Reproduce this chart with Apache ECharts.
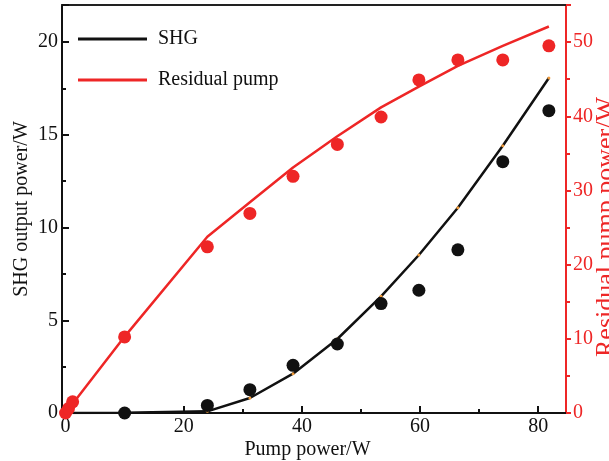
<!DOCTYPE html>
<html>
<head>
<meta charset="utf-8">
<script src="https://cdn.jsdelivr.net/npm/echarts@6/dist/echarts.min.js"></script>
<style>
html,body{margin:0;padding:0;background:#fff;}
#chart{width:609px;height:461px;}
</style>
</head>
<body>
<div id="chart"></div>
<script>
// ---- data ----
var pumpPower = [0, 10, 24, 31.2, 38.5, 46, 53.4, 59.8, 66.4, 74, 81.8];
var shgMeasured = [0, 0, 0.41, 1.26, 2.57, 3.72, 5.9, 6.62, 8.8, 13.55, 16.3];
var shgFit = [0, 0.02, 0.09, 0.81, 2.12, 3.99, 6.29, 8.52, 11.07, 14.41, 18.06];
var residualPower = [0, 0.5, 1.2, 10, 24, 31.2, 38.5, 46, 53.4, 59.8, 66.4, 74, 81.8];
var residualMeasured = [0, 0.6, 1.5, 10.25, 22.4, 26.9, 31.9, 36.2, 39.9, 44.9, 47.6, 47.6, 49.5];
var residualFit = [0, 10.3, 23.75, 28.4, 33.1, 37.3, 41.2, 44.0, 46.8, 49.5, 52.1];
var xMajorTicks = [0, 20, 40, 60, 80];
var xMinorTicks = [10, 30, 50, 70];

function pairs(xs, ys) { return xs.map(function (x, i) { return [x, ys[i]]; }); }

var RED = '#ee2626';
var BLACK = '#111111';
var FONT = "'Liberation Serif', 'Times New Roman', serif";

var chart = echarts.init(document.getElementById('chart'));
chart.setOption({
  animation: false,
  backgroundColor: '#fff',
  textStyle: { fontFamily: FONT },
  grid: { left: 62, right: 43, top: 5, bottom: 48, containLabel: false, outerBoundsMode: 'none' },
  legend: {
    orient: 'vertical', left: 73, top: 24,
    itemWidth: 69, itemHeight: 3, itemGap: 21,
    icon: 'rect',
    data: ['SHG', 'Residual pump'],
    textStyle: { fontSize: 20, color: BLACK, fontFamily: FONT, padding: [0, 0, 0, 6] }
  },
  xAxis: [
    {
      type: 'value', position: 'bottom', min: -0.6, max: 84.7,
      name: 'Pump power/W', nameLocation: 'middle', nameGap: 27, nameMoveOverlap: false,
      nameTextStyle: { fontSize: 20, color: BLACK, fontFamily: FONT, padding: [0, 13, 0, 0] },
      axisLine: { show: true, onZero: false, lineStyle: { color: BLACK, width: 2 } },
      axisTick: { show: true, inside: true, length: 7, customValues: xMajorTicks, lineStyle: { color: BLACK, width: 2 } },
      axisLabel: { show: true, customValues: xMajorTicks, margin: 4, fontSize: 20, color: BLACK, fontFamily: FONT },
      splitLine: { show: false }
    },
    {
      type: 'value', position: 'bottom', min: -0.6, max: 84.7,
      axisLine: { show: false, onZero: false },
      axisTick: { show: true, inside: true, length: 4, customValues: xMinorTicks, lineStyle: { color: BLACK, width: 2 } },
      axisLabel: { show: false },
      splitLine: { show: false }
    },
    {
      type: 'value', position: 'top', min: -0.6, max: 84.7,
      axisLine: { show: true, onZero: false, lineStyle: { color: '#222', width: 2 } },
      axisTick: { show: false }, axisLabel: { show: false }, splitLine: { show: false }
    }
  ],
  yAxis: [
    {
      type: 'value', position: 'left', min: 0, max: 22, interval: 5,
      name: 'SHG output power/W', nameLocation: 'middle', nameGap: 30, nameRotate: 90, nameMoveOverlap: false,
      nameTextStyle: { fontSize: 20, color: BLACK, fontFamily: FONT },
      axisLine: { show: true, onZero: false, lineStyle: { color: BLACK, width: 2 } },
      axisTick: { show: true, inside: true, length: 7, lineStyle: { color: BLACK, width: 2 } },
      minorTick: { show: true, splitNumber: 2, length: 4, lineStyle: { color: BLACK, width: 2 } },
      axisLabel: { margin: 4, fontSize: 20, color: BLACK, fontFamily: FONT, showMaxLabel: false },
      splitLine: { show: false }
    },
    {
      type: 'value', position: 'right', min: 0, max: 55, interval: 10, alignTicks: false,
      name: 'Residual pump power/W', nameLocation: 'middle', nameGap: 27, nameRotate: 90, nameMoveOverlap: false,
      nameTextStyle: { fontSize: 26, color: RED, fontFamily: FONT, padding: [0, 36, 0, 0] },
      axisLine: { show: true, onZero: false, lineStyle: { color: RED, width: 2 } },
      axisTick: { show: true, inside: false, length: 5, lineStyle: { color: RED, width: 2 } },
      minorTick: { show: true, splitNumber: 2, length: 4, lineStyle: { color: RED, width: 2 } },
      axisLabel: { margin: 7, fontSize: 20, color: RED, fontFamily: FONT, showMaxLabel: false },
      splitLine: { show: false }
    }
  ],
  series: [
    {
      name: 'Residual pump', type: 'line', xAxisIndex: 0, yAxisIndex: 1,
      data: pairs(pumpPower, residualFit), symbol: 'none',
      lineStyle: { color: RED, width: 2.5 }, itemStyle: { color: RED }, z: 2
    },
    {
      name: 'SHG', type: 'line', xAxisIndex: 0, yAxisIndex: 0,
      data: pairs(pumpPower, shgFit), symbol: 'none',
      lineStyle: { color: BLACK, width: 2.5 }, itemStyle: { color: BLACK }, z: 2
    },
    {
      name: 'SHG fit points', type: 'scatter', xAxisIndex: 0, yAxisIndex: 0,
      data: pairs(pumpPower, shgFit).slice(2), symbolSize: 3,
      itemStyle: { color: '#f09a3a', opacity: 1 }, z: 3
    },
    {
      name: 'Residual data', type: 'scatter', xAxisIndex: 0, yAxisIndex: 1,
      data: pairs(residualPower, residualMeasured), symbolSize: 13,
      itemStyle: { color: RED, opacity: 1 }, z: 4
    },
    {
      name: 'SHG data', type: 'scatter', xAxisIndex: 0, yAxisIndex: 0,
      data: pairs(pumpPower, shgMeasured).slice(1), symbolSize: 13,
      itemStyle: { color: BLACK, opacity: 1 }, z: 4
    }
  ]
});
</script>
</body>
</html>
